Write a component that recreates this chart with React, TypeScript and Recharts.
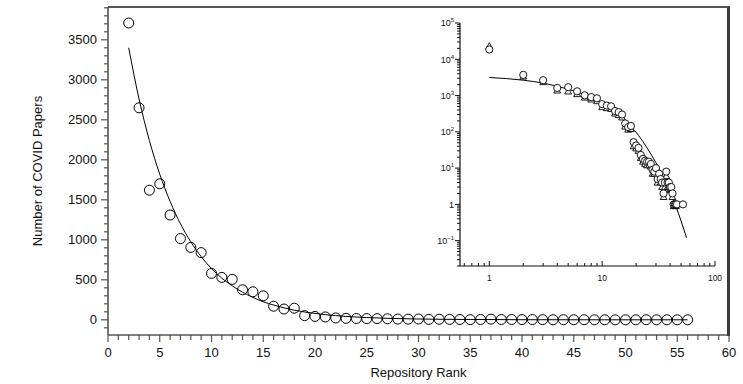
import React from 'react';
import { ComposedChart, Scatter, Line, XAxis, YAxis, Label, ReferenceLine } from 'recharts';

// ---- Main chart data (Repository Rank vs Number of COVID Papers) ----
const mainRanks = [2, 3, 4, 5, 6, 7, 8, 9, 10, 11, 12, 13, 14, 15, 16, 17, 18, 19, 20, 21, 22, 23, 24, 25, 26, 27, 28, 29, 30, 31, 32, 33, 34, 35, 36, 37, 38, 39, 40, 41, 42, 43, 44, 45, 46, 47, 48, 49, 50, 51, 52, 53, 54, 55, 56];
const mainCounts = [3710, 2650, 1620, 1700, 1310, 1015, 905, 840, 580, 530, 505, 375, 350, 300, 170, 135, 145, 52, 42, 36, 23, 18, 16, 15, 15, 13, 9, 8, 10, 5, 7, 5, 4, 2, 4, 8, 4, 4, 3, 3, 2, 1, 1, 1, 1, 0, 0, 0, 0, 0, 1, 0, 0, 0, 0];

// fitted curve
const fitRanks = [2, 3, 4, 5, 6, 7, 8, 9, 10, 11, 12, 13, 14, 15, 16, 18, 20, 22, 25, 30, 35, 40, 48, 56];
const fitCounts = [3400, 2760, 2240, 1820, 1480, 1200, 975, 790, 640, 520, 425, 345, 280, 225, 185, 120, 80, 52, 28, 10, 4, 1, 0, 0];

// ---- Inset (log-log) data ----
const insetTopRank = 1;
const insetTopCount = 18600;
const triRanks = [1, 2, 3, 4, 5, 6, 7, 8, 9, 10, 11, 12, 13, 14, 15, 16, 17, 18, 19, 20, 21, 22, 23, 24, 25, 26, 27, 28, 29, 30, 31, 32, 33, 34, 35, 36, 37, 38, 39, 40, 41, 42, 43, 44, 45];
const triCounts = [23000, 3350, 2350, 1380, 1300, 1100, 880, 780, 700, 480, 450, 430, 320, 290, 250, 140, 115, 120, 40, 35, 30, 19, 15, 13, 12, 12, 11, 7, 7, 8, 4, 6, 4, 3, 1.6, 3, 6, 3, 3, 2.5, 2.5, 1.6, 0.9, 0.9, 0.9];
const insetFitRanks = [1, 2, 3, 4, 5, 6, 8, 10, 12, 15, 18, 21, 25, 30, 35, 40, 45, 50, 56];
const insetFitCounts = [3150, 2650, 2200, 1800, 1500, 1250, 900, 600, 410, 230, 140, 80, 36, 14, 5.6, 2.2, 0.9, 0.35, 0.12];

// ---- tick values / labels ----
const mainXMajor = [0, 5, 10, 15, 20, 25, 30, 35, 40, 45, 50, 55, 60];
const mainYMajor = [0, 500, 1000, 1500, 2000, 2500, 3000, 3500];
const insetXMajor = [1, 10, 100];
const insetYMajor = [0.1, 1, 10, 100, 1000, 10000, 100000];
const insetYLabels = [['10', '\u22121'], ['1', ''], ['10', '1'], ['10', '2'], ['10', '3'], ['10', '4'], ['10', '5']];

const mainPoints = mainRanks.map((r, i) => ({ x: r, y: mainCounts[i] }));
const fitPoints = fitRanks.map((r, i) => ({ x: r, y: fitCounts[i] }));
const insetCircles = [{ x: insetTopRank, y: insetTopCount }, ...mainPoints].filter((p) => p.y > 0);
const insetTris = triRanks.map((r, i) => ({ x: r, y: triCounts[i] }));
const insetFit = insetFitRanks.map((r, i) => ({ x: r, y: insetFitCounts[i] }));

const MAIN_X_DOMAIN: [number, number] = [0, 60];
const MAIN_Y_DOMAIN: [number, number] = [-190, 3910];

const mainXTicks: number[] = [];
for (let v = 0; v <= 60; v += 1) mainXTicks.push(v);
const mainYTicks: number[] = [];
for (let v = -100; v <= 3900; v += 100) mainYTicks.push(v);

const insetXTicks: number[] = [];
[0.1, 1, 10].forEach((d) => {
  for (let m = 1; m <= 9; m++) {
    const v = +(m * d).toPrecision(3);
    if (v >= 0.6 && v <= 100) insetXTicks.push(v);
  }
});
insetXTicks.push(100);
const insetYTicks: number[] = [];
[0.01, 0.1, 1, 10, 100, 1000, 10000].forEach((d) => {
  for (let m = 1; m <= 9; m++) {
    const v = +(m * d).toPrecision(3);
    if (v >= 0.02) insetYTicks.push(v);
  }
});
insetYTicks.push(100000);

const FONT = '"Liberation Sans", Arial, Helvetica, sans-serif';
const AX = '#555';

const MainYTick = (props: any) => {
  const { x, y, payload } = props;
  const v = payload.value;
  const major = mainYMajor.includes(v);
  return (
    <g>
      <line x1={x} x2={x - (major ? 7 : 4)} y1={y} y2={y} stroke={AX} strokeWidth={1.2} />
      {major && (
        <text x={x - 11} y={y} dy="0.36em" textAnchor="end" fontSize={13} fontFamily={FONT} fill="#111">
          {v}
        </text>
      )}
    </g>
  );
};

const MainXTick = (props: any) => {
  const { x, y, payload } = props;
  const v = payload.value;
  const major = mainXMajor.includes(v);
  return (
    <g>
      <line x1={x} x2={x} y1={y} y2={y + (major ? 7 : 5)} stroke={AX} strokeWidth={1.2} />
      {major && (
        <text x={x} y={y + 21.5} textAnchor="middle" fontSize={13} fontFamily={FONT} fill="#111">
          {v}
        </text>
      )}
    </g>
  );
};

const InsetYTick = (props: any) => {
  const { x, y, payload } = props;
  const v = payload.value;
  const idx = insetYMajor.findIndex((m) => Math.abs(m - v) / m < 1e-6);
  const major = idx >= 0;
  return (
    <g>
      <line x1={x} x2={x - (major ? 5 : 3)} y1={y} y2={y} stroke="#111" strokeWidth={1} />
      {major && (
        <text x={x - 6} y={y} dy="0.36em" textAnchor="end" fontSize={9} fontFamily={FONT} fill="#111">
          <tspan>{insetYLabels[idx][0]}</tspan>
          {insetYLabels[idx][1] && (
            <tspan dy={-4} fontSize={6}>
              {insetYLabels[idx][1]}
            </tspan>
          )}
        </text>
      )}
    </g>
  );
};

const InsetXTick = (props: any) => {
  const { x, y, payload } = props;
  const v = payload.value;
  const major = insetXMajor.some((m) => Math.abs(m - v) / m < 1e-6);
  return (
    <g>
      <line x1={x} x2={x} y1={y} y2={y - (major ? 5 : 3)} stroke="#111" strokeWidth={1} />
      {major && (
        <text x={x} y={y + 15} textAnchor="middle" fontSize={8.5} fontFamily={FONT} fill="#111">
          {v}
        </text>
      )}
    </g>
  );
};

const OpenCircle = (props: any) => {
  const { cx, cy } = props;
  if (cx == null || cy == null) return <g />;
  return <circle cx={cx} cy={cy} r={5} fill="none" stroke="#000" strokeWidth={1} />;
};

const SmallCircle = (props: any) => {
  const { cx, cy } = props;
  if (cx == null || cy == null) return <g />;
  return <circle cx={cx} cy={cy} r={3.6} fill="#fff" stroke="#000" strokeWidth={0.9} />;
};

const SmallTri = (props: any) => {
  const { cx, cy } = props;
  if (cx == null || cy == null) return <g />;
  const s = 3.4;
  return (
    <polygon
      points={`${cx},${cy - s} ${cx - s},${cy + s * 0.75} ${cx + s},${cy + s * 0.75}`}
      fill="#fff"
      stroke="#000"
      strokeWidth={0.9}
    />
  );
};

export default function App() {
  return (
    <div style={{ position: 'absolute', left: 0, top: 0, width: 743, height: 384, background: '#fff' }}>
      <div style={{ position: 'absolute', left: 0, top: 0 }}>
        <ComposedChart width={743} height={384} margin={{ top: 7, right: 14, bottom: 19, left: 48 }}>
          <XAxis
            dataKey="x"
            type="number"
            domain={MAIN_X_DOMAIN}
            ticks={mainXTicks}
            interval={0}
            tick={<MainXTick />}
            tickLine={false}
            tickSize={0}
            tickMargin={0}
            height={30}
            axisLine={{ stroke: AX, strokeWidth: 1.6 }}
            allowDataOverflow
          >
            <Label
              content={(p: any) => {
                const vb = p.viewBox;
                return (
                  <text x={vb.x + vb.width / 2} y={vb.y + 42} textAnchor="middle" fontSize={13} fontFamily={FONT} fill="#111">
                    Repository Rank
                  </text>
                );
              }}
            />
          </XAxis>
          <YAxis
            dataKey="y"
            type="number"
            domain={MAIN_Y_DOMAIN}
            ticks={mainYTicks}
            interval={0}
            tick={<MainYTick />}
            tickLine={false}
            tickSize={0}
            tickMargin={0}
            width={60}
            axisLine={{ stroke: AX, strokeWidth: 1.6 }}
            allowDataOverflow
          >
            <Label
              content={(p: any) => {
                const vb = p.viewBox;
                const cx = vb.x - 11;
                const cy = vb.y + vb.height / 2;
                return (
                  <text x={cx} y={cy} transform={`rotate(-90, ${cx}, ${cy})`} textAnchor="middle" dominantBaseline="central" fontSize={13} fontFamily={FONT} fill="#111">
                    Number of COVID Papers
                  </text>
                );
              }}
            />
          </YAxis>
          <ReferenceLine x={59.97} stroke="#333" strokeWidth={2.6} ifOverflow="visible" />
          <Line data={fitPoints} dataKey="y" type="monotone" stroke="#000" strokeWidth={1} dot={false} isAnimationActive={false} />
          <Scatter data={mainPoints} dataKey="y" shape={<OpenCircle />} isAnimationActive={false} />
        </ComposedChart>
      </div>
      <div style={{ position: 'absolute', left: 400, top: 0 }}>
        <ComposedChart width={330} height={300} margin={{ top: 23, right: 15, bottom: 14, left: 20 }}>
          <XAxis
            dataKey="x"
            type="number"
            scale="log"
            domain={[0.55, 100]}
            ticks={insetXTicks}
            interval={0}
            tick={<InsetXTick />}
            tickLine={false}
            tickSize={0}
            tickMargin={0}
            height={20}
            axisLine={{ stroke: '#111', strokeWidth: 1.2 }}
            allowDataOverflow
          />
          <YAxis
            dataKey="y"
            type="number"
            scale="log"
            domain={[0.02, 100000]}
            ticks={insetYTicks}
            interval={0}
            tick={<InsetYTick />}
            tickLine={false}
            tickSize={0}
            tickMargin={0}
            width={40}
            axisLine={{ stroke: '#111', strokeWidth: 1.2 }}
            allowDataOverflow
          />
          <Line data={insetFit} dataKey="y" type="monotone" stroke="#000" strokeWidth={1} dot={false} isAnimationActive={false} />
          <Scatter data={insetTris} dataKey="y" shape={<SmallTri />} isAnimationActive={false} />
          <Scatter data={insetCircles} dataKey="y" shape={<SmallCircle />} isAnimationActive={false} />
        </ComposedChart>
      </div>
      {/* frame: top and right borders of the main plot area */}
      <div
        style={{
          position: 'absolute',
          left: 108,
          top: 6,
          width: 619,
          height: 328,
          borderTop: `2px solid ${AX}`,
          borderRight: '3px solid #3a3a3a',
          pointerEvents: 'none',
          zIndex: 5,
        }}
      />
    </div>
  );
}
